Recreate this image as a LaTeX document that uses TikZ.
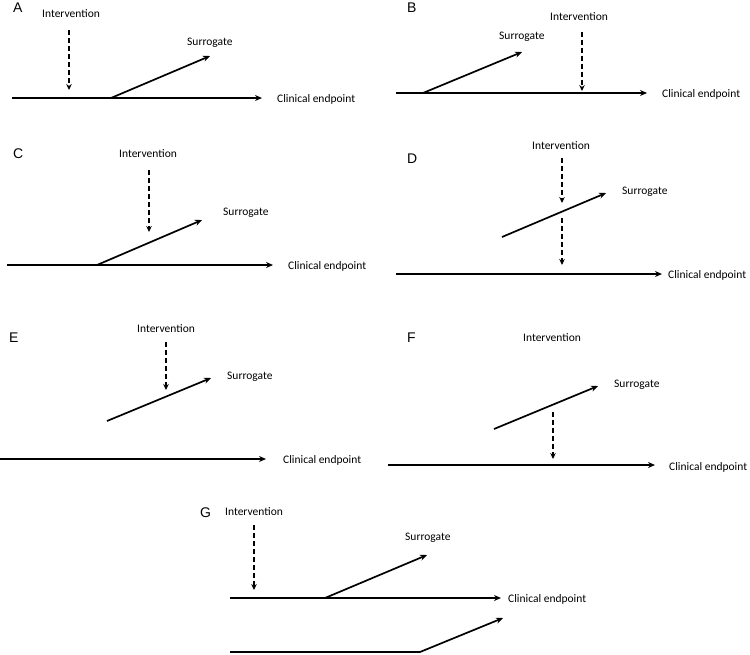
\documentclass[tikz,border=0pt]{standalone}
\usepackage{fontspec}
\setmainfont{Carlito}
\newfontfamily\panelfont{Liberation Sans}
\usetikzlibrary{arrows.meta}
\tikzset{
  x=1pt, y=-1pt,
  lbl/.style={anchor=base west, inner sep=0pt, font=\fontsize{11.5}{13}\selectfont},
  plbl/.style={anchor=base west, inner sep=0pt, font=\panelfont\fontsize{14}{16}\selectfont},
  solidarr/.style={line width=1.7pt, -{Stealth[length=7pt,width=6pt]}},
  dasharr/.style={line width=1.6pt, dash pattern=on 5pt off 3pt, -{Stealth[length=6pt,width=5.5pt]}}
}
\begin{document}
\begin{tikzpicture}
\useasboundingbox (0,0) rectangle (750,654);
% ---------- Panel A ----------
\node[plbl] (pA) at (13,12) {A};
\node[lbl] (iA) at (42,17) {Intervention};
\node[lbl] (sA) at (187,45) {Surrogate};
\node[lbl] (cA) at (277,102.5) {Clinical endpoint};
\coordinate (a0) at (12,98); \coordinate (a1) at (262,98);
\coordinate (aj) at (111,98); \coordinate (as) at (210,56);
\coordinate (ai1) at (69,30); \coordinate (ai2) at (69,90);
\draw[solidarr] (a0) -- (a1);
\draw[solidarr] (aj) -- (as);
\draw[dasharr] (ai1) -- (ai2);
% ---------- Panel B ----------
\node[plbl] (pB) at (407,12) {B};
\node[lbl] (iB) at (550,20) {Intervention};
\node[lbl] (sB) at (499,39) {Surrogate};
\node[lbl] (cB) at (662,97.5) {Clinical endpoint};
\coordinate (b0) at (396,93); \coordinate (b1) at (647,93);
\coordinate (bj) at (423,93); \coordinate (bs) at (522,52);
\coordinate (bi1) at (582,32); \coordinate (bi2) at (582,91);
\draw[solidarr] (b0) -- (b1);
\draw[solidarr] (bj) -- (bs);
\draw[dasharr] (bi1) -- (bi2);
% ---------- Panel C ----------
\node[plbl] (pC) at (13,158) {C};
\node[lbl] (iC) at (119,157) {Intervention};
\node[lbl] (sC) at (223,215) {Surrogate};
\node[lbl] (cC) at (288,269.5) {Clinical endpoint};
\coordinate (c0) at (7,265); \coordinate (c1) at (273,265);
\coordinate (cj) at (97,265); \coordinate (cs) at (202,220);
\coordinate (ci1) at (149,170); \coordinate (ci2) at (149,232);
\draw[solidarr] (c0) -- (c1);
\draw[solidarr] (cj) -- (cs);
\draw[dasharr] (ci1) -- (ci2);
% ---------- Panel D ----------
\node[plbl] (pD) at (407,163) {D};
\node[lbl] (iD) at (532,149.5) {Intervention};
\node[lbl] (sD) at (622,194) {Surrogate};
\node[lbl] (cD) at (668,278.5) {Clinical endpoint};
\coordinate (d0) at (396,274); \coordinate (d1) at (662,274);
\coordinate (ds0) at (502,237); \coordinate (ds1) at (606,193);
\coordinate (di1) at (562,158); \coordinate (di2) at (562,203);
\coordinate (di3) at (562,218); \coordinate (di4) at (562,265);
\draw[solidarr] (d0) -- (d1);
\draw[solidarr] (ds0) -- (ds1);
\draw[dasharr] (di1) -- (di2);
\draw[dasharr] (di3) -- (di4);
% ---------- Panel E ----------
\node[plbl] (pE) at (9,342) {E};
\node[lbl] (iE) at (137,332.5) {Intervention};
\node[lbl] (sE) at (227,379) {Surrogate};
\node[lbl] (cE) at (283,463.5) {Clinical endpoint};
\coordinate (e0) at (0,459); \coordinate (e1) at (266,459);
\coordinate (es0) at (107,421); \coordinate (es1) at (211,378);
\coordinate (ei1) at (166,342); \coordinate (ei2) at (166,390);
\draw[solidarr] (e0) -- (e1);
\draw[solidarr] (es0) -- (es1);
\draw[dasharr] (ei1) -- (ei2);
% ---------- Panel F ----------
\node[plbl] (pF) at (407,342) {F};
\node[lbl] (iF) at (523,341.5) {Intervention};
\node[lbl] (sF) at (614,387) {Surrogate};
\node[lbl] (cF) at (669,470.5) {Clinical endpoint};
\coordinate (f0) at (388,465); \coordinate (f1) at (655,465);
\coordinate (fs0) at (494,429); \coordinate (fs1) at (598,386);
\coordinate (fi1) at (553,412); \coordinate (fi2) at (553,459);
\draw[solidarr] (f0) -- (f1);
\draw[solidarr] (fs0) -- (fs1);
\draw[dasharr] (fi1) -- (fi2);
% ---------- Panel G ----------
\node[plbl] (pG) at (200,517) {G};
\node[lbl] (iG) at (225,515.5) {Intervention};
\node[lbl] (sG) at (405,540.5) {Surrogate};
\node[lbl] (cG) at (508,602.5) {Clinical endpoint};
\coordinate (g0) at (230,598); \coordinate (g1) at (501,598);
\coordinate (gj) at (325,598); \coordinate (gs) at (427,555);
\coordinate (gi1) at (254,525); \coordinate (gi2) at (254,590);
\coordinate (h0) at (230,652); \coordinate (hk) at (420,652); \coordinate (h1) at (503,618);
\draw[solidarr] (g0) -- (g1);
\draw[solidarr] (gj) -- (gs);
\draw[dasharr] (gi1) -- (gi2);
\draw[solidarr] (h0) -- (hk) -- (h1);
\end{tikzpicture}
\end{document}
